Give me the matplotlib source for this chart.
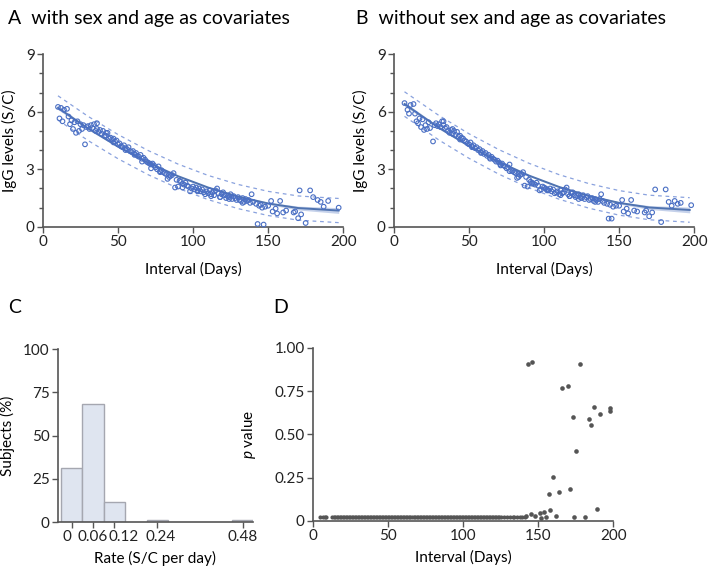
import matplotlib
matplotlib.use("Agg")
import matplotlib.pyplot as plt
import matplotlib.transforms as mtransforms
import numpy as np
from matplotlib.ticker import MultipleLocator

plt.rcParams['font.family'] = ['Lato', 'DejaVu Sans']
plt.rcParams['mathtext.fontset'] = 'custom'
plt.rcParams['mathtext.it'] = 'Lato:italic'
plt.rcParams['mathtext.rm'] = 'Lato'

# ---- panel A: with sex and age as covariates ----
days_a = [10, 11, 12, 13, 14, 16, 17, 18, 19, 20, 21, 22, 23, 24, 25, 26, 27, 28, 29, 30,
          31, 32, 33, 34, 35, 36, 37, 38, 39, 40, 41, 42, 43, 44, 45, 46, 47, 48, 49, 50,
          51, 52, 53, 54, 55, 56, 57, 58, 59, 60, 61, 62, 63, 64, 65, 66, 67, 68, 69, 70,
          71, 72, 73, 74, 75, 76, 77, 78, 79, 80, 81, 82, 83, 84, 85, 86, 87, 88, 89, 90,
          91, 92, 93, 94, 95, 96, 97, 98, 99, 100, 101, 102, 103, 104, 105, 106, 107, 108, 109, 110,
          111, 112, 113, 114, 115, 116, 117, 118, 119, 120, 121, 122, 123, 124, 125, 126, 127, 128, 129, 130,
          131, 132, 133, 134, 135, 136, 137, 138, 139, 140, 143, 142, 147, 144, 145, 146, 148, 150, 152, 153,
          155, 156, 158, 160, 162, 167, 168, 170, 171, 172, 175, 178, 180, 183, 185, 187, 190, 197,
          36, 42, 47, 55, 61, 66, 72, 78, 84, 93, 103, 112, 118, 124, 133]
igg_a = [6.25, 5.65, 6.2, 5.5, 6.1, 6.15, 5.75, 5.35, 5.55, 5.1, 5.45, 4.9, 5.5, 5.0, 5.35, 5.1, 5.3, 4.3, 5.2, 5.25,
         5.1, 5.3, 5.15, 5.35, 5.0, 5.1, 4.95, 5.05, 4.85, 5.0, 4.75, 4.9, 4.9, 4.6, 4.65, 4.55, 4.6, 4.45, 4.5, 4.3,
         4.35, 4.2, 4.15, 4.25, 4.1, 4.05, 4.15, 3.95, 3.9, 3.95, 3.8, 3.85, 3.7, 3.65, 3.75, 3.55, 3.6, 3.5, 3.4, 3.35,
         3.3, 3.25, 3.3, 3.2, 3.1, 3.0, 3.15, 2.9, 2.95, 2.85, 2.8, 2.75, 2.5, 2.7, 2.65, 2.7, 2.8, 2.05, 2.45, 2.1,
         2.4, 2.35, 2.25, 2.2, 2.3, 2.15, 2.1, 1.85, 2.0, 2.1, 1.95, 2.05, 1.9, 2.0, 1.85, 1.95, 1.8, 1.7, 1.85, 1.75,
         1.9, 1.7, 1.8, 1.65, 1.9, 2.0, 1.75, 1.55, 1.7, 1.8, 1.65, 1.5, 1.6, 1.55, 1.7, 1.45, 1.6, 1.5, 1.4, 1.55,
         1.4, 1.35, 1.5, 1.3, 1.45, 1.35, 1.4, 1.25, 1.7, 1.3, 0.15, 1.2, 0.12, 1.1, 1.15, 1.0, 1.05, 1.1, 1.35, 0.8,
         0.95, 0.7, 1.35, 0.75, 0.85, 0.75, 0.8, 0.45, 1.9, 0.65, 0.2, 1.9, 1.55, 1.4, 1.3, 1.05, 1.35, 1.0,
         5.4, 4.75, 4.4, 4.0, 3.75, 3.4, 3.05, 2.85, 2.6, 2.05, 1.85, 1.6, 1.55, 1.45, 1.25]

fit_x_a = [10, 30, 50, 70, 90, 110, 130, 150, 170, 197]
fit_a = [6.2, 5.13, 4.18, 3.35, 2.64, 2.05, 1.58, 1.22, 0.98, 0.85]
ci_lo_a = [6.1, 5.07, 4.14, 3.31, 2.6, 2.01, 1.53, 1.16, 0.88, 0.7]
ci_hi_a = [6.3, 5.19, 4.22, 3.39, 2.68, 2.09, 1.63, 1.28, 1.08, 1.0]
pi_lo_a = [5.57, 4.5, 3.55, 2.72, 2.01, 1.42, 0.95, 0.59, 0.35, 0.22]
pi_hi_a = [6.83, 5.76, 4.81, 3.98, 3.27, 2.68, 2.21, 1.85, 1.61, 1.48]

# ---- panel B: without sex and age as covariates ----
days_b = [7, 9, 10, 11, 13, 14, 15, 16, 17, 18, 19, 20, 21, 22, 23, 24, 26, 27, 28, 29,
          30, 31, 32, 33, 34, 35, 36, 37, 38, 39, 40, 41, 42, 43, 44, 45, 46, 47, 48, 49,
          50, 51, 52, 53, 54, 55, 56, 57, 58, 59, 60, 61, 62, 63, 64, 65, 66, 67, 68, 69,
          70, 71, 72, 73, 74, 75, 76, 77, 78, 79, 80, 81, 82, 83, 84, 85, 86, 87, 88, 89,
          90, 91, 92, 93, 94, 95, 96, 97, 98, 99, 100, 101, 102, 103, 104, 105, 106, 107, 108, 109,
          110, 111, 112, 113, 114, 115, 116, 117, 118, 119, 120, 121, 122, 123, 124, 125, 126, 127, 128, 129,
          130, 131, 132, 133, 134, 135, 136, 137, 138, 139, 140, 142, 145, 143, 144, 146, 148, 150, 152, 153,
          155, 156, 158, 160, 162, 167, 168, 170, 172, 174, 178, 181, 183, 185, 187, 189, 191, 198,
          33, 39, 44, 52, 58, 64, 71, 77, 83, 92, 102, 111, 117, 123, 134]
igg_b = [6.45, 6.1, 5.9, 6.35, 6.4, 5.9, 5.5, 5.4, 5.65, 5.2, 5.6, 5.05, 5.3, 5.1, 5.45, 5.15, 4.45, 5.3, 5.4, 5.25,
         5.35, 5.2, 5.5, 5.3, 5.15, 5.2, 5.0, 4.9, 5.05, 4.85, 5.0, 4.8, 4.95, 4.7, 4.55, 4.65, 4.6, 4.5, 4.45, 4.35,
         4.3, 4.4, 4.2, 4.25, 4.1, 4.15, 4.0, 4.05, 3.9, 3.95, 3.8, 3.85, 3.7, 3.75, 3.6, 3.65, 3.55, 3.5, 3.4, 3.45,
         3.35, 3.25, 3.3, 3.2, 3.15, 3.05, 3.1, 3.25, 2.95, 2.9, 2.85, 2.8, 2.55, 2.75, 2.7, 2.75, 2.85, 2.15, 2.6, 2.1,
         2.45, 2.35, 2.3, 2.25, 2.2, 2.3, 2.15, 1.9, 1.95, 2.1, 2.05, 2.0, 1.95, 1.9, 2.0, 1.85, 1.95, 1.75, 1.8, 1.85,
         1.7, 1.9, 1.75, 1.8, 1.95, 2.05, 1.7, 1.6, 1.75, 1.8, 1.65, 1.55, 1.6, 1.7, 1.55, 1.5, 1.65, 1.45, 1.55, 1.6,
         1.4, 1.45, 1.5, 1.35, 1.45, 1.4, 1.3, 1.45, 1.7, 1.35, 1.25, 1.2, 0.43, 0.43, 1.15, 1.05, 1.1, 1.1, 1.4, 0.8,
         0.95, 0.7, 1.4, 0.85, 0.8, 0.75, 0.85, 0.55, 0.75, 1.95, 0.25, 1.95, 1.3, 1.1, 1.35, 1.2, 1.25, 1.13,
         5.5, 5.1, 4.75, 4.15, 3.85, 3.55, 3.2, 2.9, 2.6, 2.25, 1.9, 1.65, 1.6, 1.45, 1.3]

fit_x_b = [7, 30, 50, 70, 90, 110, 130, 150, 170, 197]
fit_b = [6.4, 5.16, 4.21, 3.38, 2.67, 2.08, 1.61, 1.25, 1.01, 0.88]
ci_lo_b = [6.29, 5.1, 4.17, 3.34, 2.63, 2.04, 1.56, 1.19, 0.91, 0.73]
ci_hi_b = [6.51, 5.22, 4.25, 3.42, 2.71, 2.12, 1.66, 1.31, 1.11, 1.03]
pi_lo_b = [5.76, 4.52, 3.57, 2.74, 2.03, 1.44, 0.97, 0.61, 0.37, 0.24]
pi_hi_b = [7.04, 5.8, 4.85, 4.02, 3.31, 2.72, 2.25, 1.89, 1.65, 1.52]

# ---- panel C: rate histogram ----
rate_bins = [0, 0.06, 0.12, 0.24, 0.48]
subjects_pct = [31, 68.5, 11.5, 1.2, 1.2]
rate_ticks = ['0', '0.06', '0.12', '0.24', '0.48']

# ---- panel D: p values ----
d_base_days = [5, 7, 8, 9, 13, 14, 15, 16, 17, 18, 19, 20, 21, 22, 23, 24, 25, 26, 27, 28,
               29, 30, 31, 32, 33, 34, 35, 36, 37, 38, 39, 40, 41, 42, 43, 44, 45, 46, 47, 48,
               49, 50, 51, 52, 53, 54, 55, 56, 57, 58, 59, 60, 61, 62, 63, 64, 65, 66, 67, 68,
               69, 70, 71, 72, 73, 74, 75, 76, 77, 78, 79, 80, 81, 82, 83, 84, 85, 86, 87, 88,
               89, 90, 91, 92, 93, 94, 95, 96, 97, 98, 99, 100, 101, 102, 103, 104, 105, 106, 107, 108,
               109, 110, 111, 112, 113, 114, 115, 116, 117, 118, 119, 120, 121, 122, 123, 124, 125, 127,
               129, 131, 133, 134, 136, 138, 139, 141]
d_base_p = 0.025
d_days = [143, 146, 178, 166, 170, 187, 198, 198, 173, 184, 191, 185, 175, 160, 157, 164,
          171, 189, 158, 154, 151, 155, 162, 174, 181, 152, 148, 142, 145]
d_p = [0.905, 0.917, 0.906, 0.769, 0.777, 0.656, 0.654, 0.637, 0.6, 0.588, 0.617, 0.552, 0.404, 0.256, 0.156, 0.169,
       0.183, 0.071, 0.065, 0.052, 0.044, 0.025, 0.029, 0.021, 0.023, 0.02, 0.03, 0.03, 0.04]

spine_col = '#555555'
blue = '#4a6fc4'
line_blue = '#4f73b0'


def style_axes(ax):
    for s in ['top', 'right']:
        ax.spines[s].set_visible(False)
    for s in ['left', 'bottom']:
        ax.spines[s].set_color(spine_col)
        ax.spines[s].set_linewidth(1.2)
    ax.tick_params(direction='out', length=4, width=1.0, color=spine_col,
                   labelsize=11, labelcolor='#222222', pad=2)
    ax.tick_params(which='minor', direction='out', length=3, width=1.0, color=spine_col)


fig = plt.figure(figsize=(7.08, 5.70), dpi=100)

panels = [
    ([0.0607, 0.602, 0.424, 0.303], days_a, igg_a, fit_x_a, fit_a, ci_lo_a, ci_hi_a, pi_lo_a, pi_hi_a,
     'A  with sex and age as covariates', 0.011),
    ([0.5565, 0.602, 0.424, 0.303], days_b, igg_b, fit_x_b, fit_b, ci_lo_b, ci_hi_b, pi_lo_b, pi_hi_b,
     'B  without sex and age as covariates', 0.503),
]
for rect, dx, dy, fx, fy, clo, chi, plo, phi, title, tx in panels:
    ax = fig.add_axes(rect)
    ax.fill_between(fx, clo, chi, color='#9fb3dc', alpha=0.6, lw=0)
    ax.plot(fx, fy, color=line_blue, lw=1.4)
    ax.plot(fx, plo, color='#8aa2de', lw=0.9, ls=(0, (3, 3)))
    ax.plot(fx, phi, color='#8aa2de', lw=0.9, ls=(0, (3, 3)))
    ax.scatter(dx, dy, s=11, facecolors='none', edgecolors=blue, linewidths=0.8, clip_on=False, zorder=3)
    ax.set_xlim(0, 200)
    ax.set_ylim(0, 9)
    ax.set_xticks([0, 50, 100, 150, 200])
    ax.set_yticks([0, 3, 6, 9])
    ax.yaxis.set_minor_locator(MultipleLocator(1))
    style_axes(ax)
    ax.set_xlabel('Interval (Days)', fontsize=11, labelpad=9)
    ax.set_ylabel('IgG levels (S/C)', fontsize=11, labelpad=6)
    fig.text(tx, 0.968, title, fontsize=14, va='center', ha='left')

# panel C
axc = fig.add_axes([0.0819, 0.0842, 0.275, 0.3035])
axc.bar(rate_bins, subjects_pct, width=0.06, color='#dfe5f0', edgecolor='#a5a7b0', linewidth=1.0)
axc.set_xlim(-0.038, 0.507)
axc.set_ylim(0, 100)
axc.set_xticks(rate_bins)
axc.set_xticklabels(rate_ticks)
axc.set_yticks([0, 25, 50, 75, 100])
style_axes(axc)
# crowded labels near zero are nudged sideways, as in the original figure
for lab, shift_px in zip(axc.get_xticklabels(), [-5, 0, 9, 3, 0]):
    lab.set_transform(lab.get_transform() +
                      mtransforms.ScaledTranslation(shift_px / 100, 0, fig.dpi_scale_trans))
axc.set_xlabel('Rate (S/C per day)', fontsize=11, labelpad=5)
axc.set_ylabel('Subjects (%)', fontsize=11, labelpad=6)
fig.text(0.011, 0.461, 'C', fontsize=14, va='center', ha='left')

# panel D
axd = fig.add_axes([0.442, 0.086, 0.424, 0.304])
axd.scatter(d_base_days, np.full(len(d_base_days), d_base_p), s=9, color='#555555', lw=0, clip_on=False)
axd.scatter(d_days, d_p, s=11, color='#555555', lw=0, clip_on=False)
axd.set_xlim(0, 200)
axd.set_ylim(0, 1)
axd.set_xticks([0, 50, 100, 150, 200])
axd.set_yticks([0, 0.25, 0.5, 0.75, 1.0])
axd.set_yticklabels(['0', '0.25', '0.50', '0.75', '1.00'])
style_axes(axd)
axd.set_xlabel('Interval (Days)', fontsize=11, labelpad=5)
axd.set_ylabel('$\\it{p}$ value', fontsize=11, labelpad=12)
fig.text(0.386, 0.461, 'D', fontsize=14, va='center', ha='left')

fig.savefig('out.png', dpi=100)
